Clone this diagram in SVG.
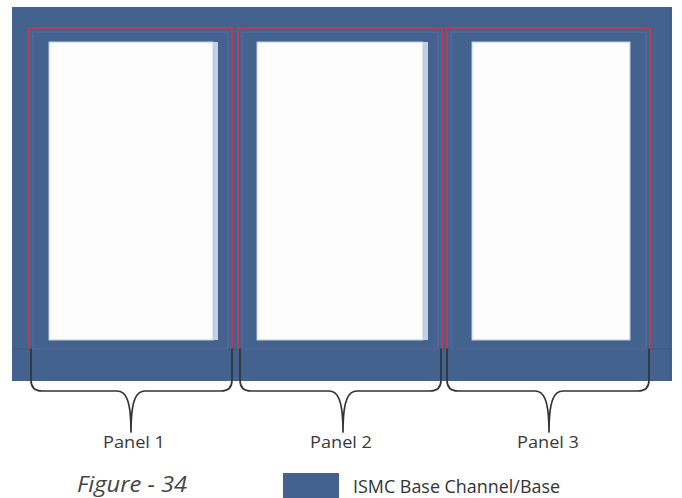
<svg xmlns="http://www.w3.org/2000/svg" width="682" height="498" viewBox="0 0 682 498">
<style>
.base{fill:#43638e}
.redl{fill:none;stroke:#b83c55;stroke-width:2}
.inner{fill:none;stroke:#5a6aa8;stroke-width:1.2;opacity:0.8}
.win{fill:#fdfdfe;stroke:#b9cde4;stroke-width:1}
.shade{fill:#c3d0e1}
.brace{fill:none;stroke:#333;stroke-width:1.7;stroke-linejoin:round;stroke-linecap:round}
.lbl{font-family:"Open Sans","Noto Sans",sans-serif;font-size:16px;fill:#3a3a3a;text-anchor:middle}
.fig{font-family:"Open Sans","Noto Sans",sans-serif;font-size:22px;font-style:italic;fill:#444}
.leg{font-family:"Open Sans","Noto Sans",sans-serif;font-size:18px;fill:#333}
</style>
<g id="base">
<rect class="base" x="12" y="7" width="660" height="374"/>
<line x1="12" y1="349" x2="672" y2="349" stroke="#3a5880" stroke-width="1"/>
<line x1="670" y1="7" x2="670" y2="381" stroke="#3d5c85" stroke-width="1"/>
</g>
<g id="panel1">
<rect class="inner" x="33" y="32" width="195" height="317"/>
<path class="redl" d="M29,349 V28 H232 V349"/>
<rect class="shade" x="213" y="42" width="5" height="298"/>
<rect class="win" x="49" y="42" width="164" height="298"/>
</g>
<g id="panel2">
<rect class="inner" x="242" y="32" width="196" height="317"/>
<path class="redl" d="M238,349 V28 H442 V349"/>
<rect class="shade" x="423" y="42" width="5" height="298"/>
<rect class="win" x="257" y="42" width="166" height="298"/>
</g>
<g id="panel3">
<rect class="inner" x="451" y="32" width="195" height="317"/>
<path class="redl" d="M447,349 V28 H650 V349"/>
<rect class="win" x="472" y="42" width="158" height="298"/>
</g>
<g id="connectors">
<path class="brace" d="M31,349 V380 Q31,391 42,391 H117 C125,391 131,398 131,432 C131,398 137,391 145,391 H221 Q232,391 232,380 V349"/>
<path class="brace" d="M240,349 V380 Q240,391 251,391 H329 C337,391 343,398 343,432 C343,398 349,391 357,391 H430 Q441,391 441,380 V349"/>
<path class="brace" d="M447,349 V380 Q447,391 458,391 H535 C543,391 549,398 549,432 C549,398 555,391 563,391 H638 Q649,391 649,380 V349"/>
</g>
<g id="labels">
<text class="lbl" x="134" y="448" textLength="62" lengthAdjust="spacingAndGlyphs">Panel 1</text>
<text class="lbl" x="341" y="448" textLength="62" lengthAdjust="spacingAndGlyphs">Panel 2</text>
<text class="lbl" x="548" y="448" textLength="62" lengthAdjust="spacingAndGlyphs">Panel 3</text>
</g>
<g id="legend">
<text class="fig" x="77" y="492" textLength="110" lengthAdjust="spacingAndGlyphs">Figure - 34</text>
<rect class="base" x="283" y="473" width="56" height="25"/>
<text class="leg" x="353" y="493" textLength="207" lengthAdjust="spacingAndGlyphs">ISMC Base Channel/Base</text>
</g>
</svg>
